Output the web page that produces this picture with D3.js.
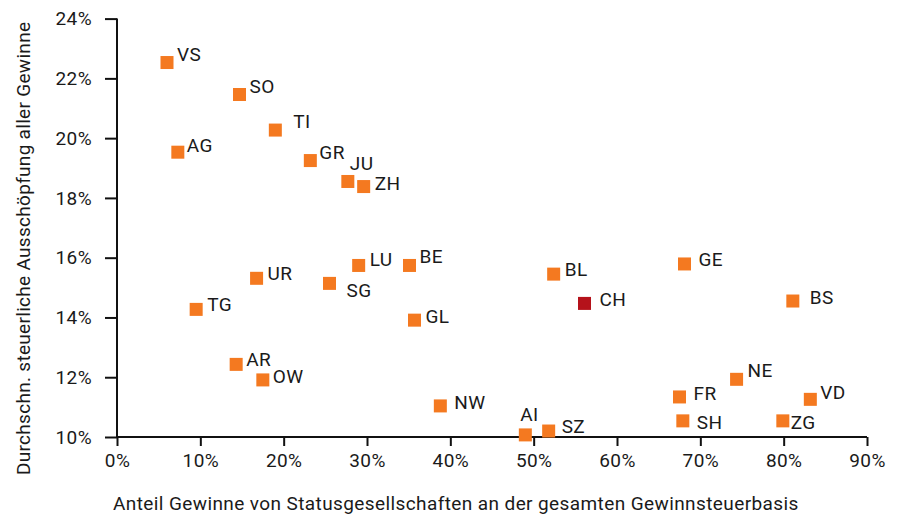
<!DOCTYPE html>
<html><head><meta charset="utf-8">
<script src="https://cdn.jsdelivr.net/npm/d3@7"></script>
<style>body{margin:0;background:#fff}svg{display:block}text{font-family:Roboto,"DejaVu Sans",sans-serif;fill:#1a1a1a;letter-spacing:0.4px}</style>
</head><body>
<svg id="c" width="901" height="515"></svg>
<script>
const cantons = ["VS","SO","TI","AG","GR","JU","ZH","LU","BE","UR","SG","TG","AR","OW","GL","BL","CH","NW","AI","SZ","GE","BS","NE","FR","VD","SH","ZG"];
const shareStatus = [6.0,14.7,19.0,7.3,23.2,27.7,29.6,29.0,35.1,16.75,25.5,9.5,14.3,17.5,35.7,52.4,56.1,38.8,49.0,51.8,68.1,81.1,74.35,67.5,83.2,67.9,79.9];
const taxExhaustion = [22.53,21.46,20.27,19.53,19.25,18.55,18.38,15.74,15.74,15.31,15.14,14.27,12.43,11.91,13.91,15.45,14.47,11.04,10.07,10.2,15.79,14.55,11.93,11.34,11.26,10.54,10.54];
const xTicks = [0,10,20,30,40,50,60,70,80,90];
const yTicks = [10,12,14,16,18,20,22,24];
const xTitle = "Anteil Gewinne von Statusgesellschaften an der gesamten Gewinnsteuerbasis";
const yTitle = "Durchschn. steuerliche Ausschöpfung aller Gewinne";

// label placement (layout only): offset from marker centre
const labelOffset = {VS:[10,-8],SO:[10,-8],TI:[18,-9],AG:[9,-7],GR:[9,-8],JU:[2,-18],ZH:[11,-3],LU:[11,-6],BE:[10,-9],UR:[11,-5],SG:[17,7],TG:[11,-5],AR:[10,-5],OW:[10,-4],GL:[11,-4],BL:[11,-5],CH:[15,-4],NW:[14,-4],AI:[-5,-21],SZ:[13,-5],GE:[14,-5],BS:[17,-4],NE:[11,-9],FR:[14,-4],VD:[10,-7],SH:[14,1],ZG:[8,1]};

const svg = d3.select("#c");
const x = d3.scaleLinear().domain([0,90]).range([117,867]);
const y = d3.scaleLinear().domain([10,24]).range([437,18.6]);
const fs = 19;

const xa = svg.append("g").attr("transform","translate(0,437)")
  .call(d3.axisBottom(x).tickValues(xTicks).tickFormat(d=>d+"%").tickSize(9).tickPadding(8));
const ya = svg.append("g").attr("transform","translate(117,0)")
  .call(d3.axisLeft(y).tickValues(yTicks).tickFormat(d=>d+"%").tickSize(12).tickPadding(13));
[xa,ya].forEach(a=>{
  a.selectAll("path").attr("stroke","#111").attr("stroke-width",2);
  a.selectAll("line").attr("stroke","#111").attr("stroke-width",2);
  a.selectAll("text").attr("font-size",fs).attr("font-family","Roboto").attr("fill","#1a1a1a");
});
xa.select("path").attr("d","M117,0H867");
ya.select("path").attr("d","M0,18.6V437");

const pts = cantons.map((c,i)=>({c, x:shareStatus[i], y:taxExhaustion[i]}));
const s = 13;
svg.append("g").selectAll("rect").data(pts).join("rect")
  .attr("x",d=>x(d.x)-s/2).attr("y",d=>y(d.y)-s/2).attr("width",s).attr("height",s)
  .attr("fill",d=>d.c==="CH"?"#b5121b":"#f47920");
svg.append("g").selectAll("text").data(pts).join("text")
  .attr("x",d=>x(d.x)+labelOffset[d.c][0]).attr("y",d=>y(d.y)+labelOffset[d.c][1])
  .attr("dy","0.35em").attr("font-size",fs).text(d=>d.c);

svg.append("text").attr("x",113).attr("y",510).attr("font-size",fs).text(xTitle);
svg.append("text").attr("transform","translate(30,475) rotate(-90)").attr("font-size",fs)
  .style("letter-spacing","0.3px").text(yTitle);
</script>
</body></html>
